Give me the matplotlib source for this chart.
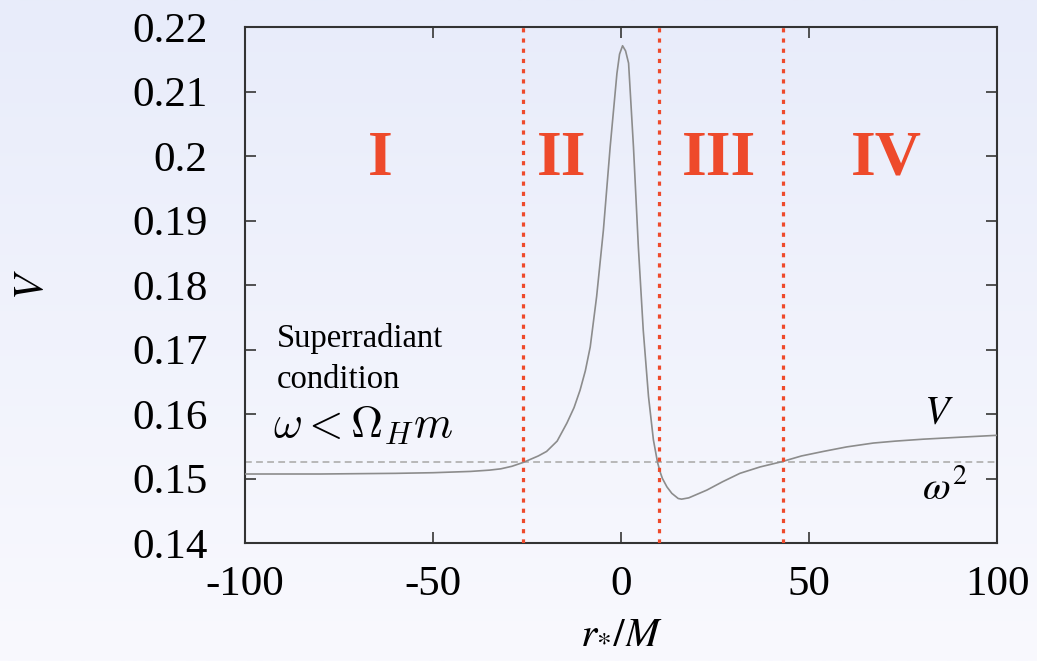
import numpy as np
import matplotlib.pyplot as plt

# potential
r_star = [-100, -80, -60, -50, -40, -35, -32, -29, -26, -24, -22, -19.8, -17, -14.4,
          -12.5, -10.9, -9.5, -8.2, -6.5, -4.7, -2.9, -1.1, -0.4, 0.4, 1.2, 2.0, 3.3,
          4.6, 5.9, 7.3, 8.6, 9.7, 10.4, 11, 12.2, 13.5, 15.2, 16.1, 18, 20, 22.8, 27,
          31.6, 37, 42.7, 48, 53.8, 60, 67.1, 73, 80.4, 90, 100]
V_vals = [0.1507, 0.1507, 0.1508, 0.1509, 0.1511, 0.1513, 0.1515, 0.1519, 0.1525,
          0.1530, 0.1535, 0.1542, 0.1558, 0.1586, 0.1610, 0.1637, 0.1667, 0.1704,
          0.1782, 0.1885, 0.2014, 0.2128, 0.2158, 0.2171, 0.2163, 0.2144, 0.2014,
          0.1859, 0.1730, 0.1627, 0.1560, 0.1525, 0.1510, 0.1500, 0.1487, 0.1477,
          0.1469, 0.1468, 0.1470, 0.1475, 0.1482, 0.1495, 0.1508, 0.1518, 0.1526,
          0.1535, 0.1542, 0.1549, 0.1555, 0.1558, 0.1561, 0.1564, 0.1567]
omega_sq = 0.1526
region_bounds = [-26, 10, 43]
region_names = ['I', 'II', 'III', 'IV']
region_x = [-64, -15.7, 26, 70.5]

xticks = [-100, -50, 0, 50, 100]
yticks = [0.14, 0.15, 0.16, 0.17, 0.18, 0.19, 0.2, 0.21, 0.22]
ytick_labels = ['0.14', '0.15', '0.16', '0.17', '0.18', '0.19', '0.2', '0.21', '0.22']

red = '#ee4a2b'
serif = 'Liberation Serif'

fig = plt.figure(figsize=(10.37, 6.61), dpi=100)

# soft slide-like background gradient
bg = fig.add_axes([0, 0, 1, 1])
grad = np.linspace(0, 1, 256).reshape(-1, 1)
top_c = np.array([232, 236, 250]) / 255
bot_c = np.array([249, 249, 254]) / 255
img = top_c[None, None, :] * (1 - grad[:, :, None]) + bot_c[None, None, :] * grad[:, :, None]
bg.imshow(img, aspect='auto', extent=[0, 1, 0, 1])
bg.axis('off')

ax = fig.add_axes([0.2363, 0.1785, 0.7252, 0.7806])
ax.set_facecolor('none')

ax.plot(r_star, V_vals, color='#8c8c8c', lw=1.2, zorder=3)
ax.axhline(omega_sq, color='#b8b8b8', lw=1.4, ls=(0, (3.5, 2.2)), zorder=2)
for xb in region_bounds:
    ax.axvline(xb, color=red, lw=2.3, ls=(0, (1.3, 1.9)), zorder=4)

for name, xr in zip(region_names, region_x):
    ax.text(xr, 0.1971, name, color=red, fontsize=46, fontweight='bold',
            family=serif, ha='center', va='baseline')

ax.text(-91.5, 0.1704, 'Superradiant', fontsize=23.5, family=serif, va='baseline')
ax.text(-91.5, 0.1640, 'condition', fontsize=23.5, family=serif, va='baseline')
ax.text(-92.5, 0.1563, r'$\omega < \Omega_H m$', fontsize=32, math_fontfamily='cm',
        va='baseline')
ax.text(84.6, 0.1602, r'$V$', fontsize=29, math_fontfamily='stix', ha='center', va='center')
ax.text(86, 0.1485, r'$\omega^2$', fontsize=29, math_fontfamily='stix', ha='center', va='center')

ax.set_xlim(-100, 100)
ax.set_ylim(0.14, 0.22)
ax.set_xticks(xticks)
ax.set_xticklabels([str(t) for t in xticks])
ax.set_yticks(yticks)
ax.set_yticklabels(ytick_labels)
ax.tick_params(direction='in', length=8, width=1.3, color='#444444', top=True, right=True,
               labelsize=31, pad=16)
ax.tick_params(axis='y', pad=27)
for lab in ax.get_xticklabels() + ax.get_yticklabels():
    lab.set_family(serif)
for sp in ax.spines.values():
    sp.set_color('#333333')
    sp.set_linewidth(1.5)

ax.set_ylabel(r'$V$', fontsize=30, math_fontfamily='stix', labelpad=58)
ax.set_xlabel(r'$r_{*}/M$', fontsize=30, math_fontfamily='stix', labelpad=4)

fig.savefig('out.png', dpi=100)
